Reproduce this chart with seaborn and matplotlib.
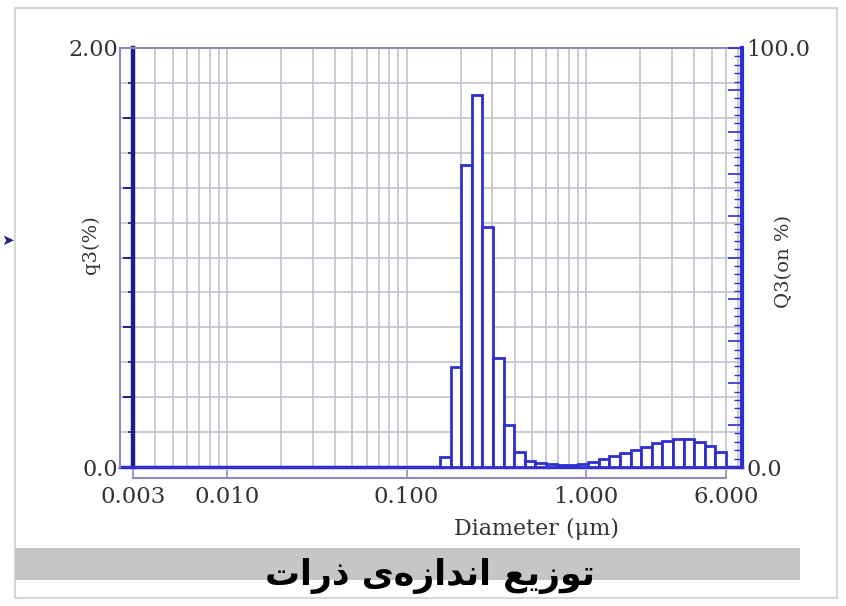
import numpy as np
import pandas as pd
import matplotlib
matplotlib.use("Agg")
import matplotlib.pyplot as plt
from matplotlib.patches import Rectangle
from matplotlib.ticker import (LogLocator, MultipleLocator, NullFormatter,
                               NullLocator, FuncFormatter)
import seaborn as sns

# bin edges of the size classes (um)
bin_edges = [0.154, 0.176, 0.202, 0.231, 0.264, 0.303, 0.347, 0.397, 0.455,
             0.521, 0.597, 0.684, 0.783, 0.897, 1.028, 1.177, 1.348, 1.544,
             1.769, 2.026, 2.321, 2.658, 3.045, 3.487, 3.994, 4.575, 5.241,
             6.000]
# q3 (%) per class
q3_values = [0.048, 0.477, 1.441, 1.776, 1.146, 0.520, 0.200, 0.072, 0.029,
             0.019, 0.014, 0.010, 0.010, 0.014, 0.024, 0.038, 0.052, 0.067,
             0.081, 0.095, 0.115, 0.124, 0.134, 0.134, 0.119, 0.100, 0.072]

x_ticks = [0.003, 0.01, 0.1, 1.0, 6.0]
x_ticklabels = ["0.003", "0.010", "0.100", "1.000", "6.000"]

title_fa = "توزیع اندازه\u200cی ذرات"

# matplotlib does no arabic shaping, so map letters to presentation forms
# (isolated, final, initial, medial); None -> letter never joins forward
forms = {
    "ت": ("\ufe95", "\ufe96", "\ufe97", "\ufe98"),
    "ع": ("\ufec9", "\ufeca", "\ufecb", "\ufecc"),
    "ن": ("\ufee5", "\ufee6", "\ufee7", "\ufee8"),
    "ه": ("\ufee9", "\ufeea", "\ufeeb", "\ufeec"),
    "\u06cc": ("\ufeef", "\ufef0", "\ufef3", "\ufef4"),
    "\u064a": ("\ufeef", "\ufef0", "\ufef3", "\ufef4"),
    "ا": ("\ufe8d", "\ufe8e", None, None),
    "د": ("\ufea9", "\ufeaa", None, None),
    "ذ": ("\ufeab", "\ufeac", None, None),
    "ر": ("\ufead", "\ufeae", None, None),
    "ز": ("\ufeaf", "\ufeb0", None, None),
    "و": ("\ufeed", "\ufeee", None, None),
}


def shape_fa(text):
    words = []
    for word in text.split(" "):
        out = []
        for part in word.split("\u200c"):
            for i, ch in enumerate(part):
                iso, fin, ini, med = forms[ch]
                prev_joins = i > 0 and forms[part[i - 1]][2] is not None
                next_joins = ini is not None and i < len(part) - 1
                if prev_joins and next_joins:
                    out.append(med)
                elif prev_joins:
                    out.append(fin)
                elif next_joins:
                    out.append(ini)
                else:
                    out.append(iso)
        words.append("".join(out)[::-1])
    return " ".join(words[::-1])


edges = np.array(bin_edges)
df = pd.DataFrame({"diameter": np.sqrt(edges[:-1] * edges[1:]), "q3": q3_values})
log_bins = [float(v) for v in np.log10(edges)]

sns.set_theme(style="white")
plt.rcParams["font.family"] = ["DejaVu Serif"]

navy = "#1e1e86"
blue = "#2f2fd0"
frame = "#8c8cb8"
text_col = "#333333"

fig = plt.figure(figsize=(8.46, 6.06), dpi=100)

# slide frame and caption band
fig.add_artist(Rectangle((15 / 846, 8 / 606), 822 / 846, 590 / 606,
                         transform=fig.transFigure, fill=False,
                         edgecolor="#d6d6d6", lw=1.5, zorder=0))
fig.add_artist(Rectangle((15 / 846, 26 / 606), 785 / 846, 32 / 606,
                         transform=fig.transFigure, color="#c6c6c6", lw=0, zorder=0))

ax = fig.add_axes([120 / 846, 139 / 606, 622 / 846, 419 / 606])
sns.histplot(data=df, x="diameter", weights="q3", bins=log_bins,
             log_scale=True, stat="count", fill=True, facecolor="white",
             edgecolor=blue, linewidth=2, ax=ax, zorder=3)

ax.set_xlim(0.00254, 7.37)
ax.set_ylim(0, 2)

# x grid on log decades
ax.xaxis.set_major_locator(LogLocator(base=10))
ax.xaxis.set_minor_locator(LogLocator(base=10, subs=range(2, 10)))
ax.xaxis.set_major_formatter(NullFormatter())
ax.xaxis.set_minor_formatter(NullFormatter())
ax.tick_params(axis="x", which="both", direction="out", length=4, width=1,
               color=blue, labelbottom=False)

ax.yaxis.set_major_locator(MultipleLocator(1 / 3))
ax.yaxis.set_minor_locator(MultipleLocator(1 / 6))
ax.yaxis.set_major_formatter(FuncFormatter(
    lambda v, p: "0.0" if abs(v) < 1e-9 else ("2.00" if abs(v - 2) < 1e-9 else "")))
ax.tick_params(axis="y", which="major", direction="out", length=7, width=1.4,
               color=navy, pad=4, labelsize=16, labelcolor=text_col)
ax.tick_params(axis="y", which="minor", direction="out", length=3.5, width=1.2,
               color=navy)

ax.grid(True, which="both", axis="both", color="#c2c2cc", lw=1.2)
ax.set_axisbelow(True)

ax.spines["left"].set_position(("data", 0.003))
ax.spines["left"].set_color(navy)
ax.spines["left"].set_linewidth(3.2)
ax.spines["bottom"].set_color(blue)
ax.spines["bottom"].set_linewidth(2.5)
ax.spines["top"].set_color(frame)
ax.spines["top"].set_linewidth(1.5)
ax.spines["right"].set_visible(False)

ax.set_ylabel("q3(%)", fontsize=14, color=text_col)
ax.yaxis.set_label_coords(-0.032, 0.53)
ax.set_xlabel("Diameter (\u03bcm)", fontsize=16, color=text_col)
ax.xaxis.set_label_coords(0.67, -0.122)

# bracket axis under the baseline carrying the labelled ticks
sec = ax.secondary_xaxis(-11 / 419)
sec.set_ticks(x_ticks, labels=x_ticklabels)
sec.xaxis.set_minor_locator(NullLocator())
sec.spines["bottom"].set_bounds(0.003, 6.0)
sec.spines["bottom"].set_color(frame)
sec.spines["bottom"].set_linewidth(1.5)
sec.tick_params(axis="x", direction="in", length=6, width=1.2, color=frame,
                pad=6, labelsize=16.5, labelcolor=text_col)

# cumulative axis on the right
ax2 = ax.twinx()
ax2.set_ylim(0, 100)
ax2.yaxis.set_major_locator(MultipleLocator(10))
ax2.yaxis.set_minor_locator(MultipleLocator(2))
ax2.yaxis.set_major_formatter(FuncFormatter(
    lambda v, p: "0.0" if abs(v) < 1e-9 else ("100.0" if abs(v - 100) < 1e-9 else "")))
ax2.tick_params(axis="y", which="major", direction="in", length=10, width=1.2,
                color=blue, pad=3, labelsize=16, labelcolor=text_col)
ax2.tick_params(axis="y", which="minor", direction="in", length=6, width=1,
                color=blue)
ax2.spines["right"].set_color(blue)
ax2.spines["right"].set_linewidth(3)
ax2.spines["left"].set_color(frame)
ax2.spines["left"].set_linewidth(1.5)
ax2.spines["top"].set_visible(False)
ax2.spines["bottom"].set_visible(False)
ax2.set_ylabel("Q3(on %)", fontsize=14, color=text_col)
ax2.yaxis.set_label_coords(1.053, 0.49)

fig.text(0.001, 1 - 240 / 606, "\u27a4", color=navy, fontsize=11,
         ha="left", va="center", family=["DejaVu Sans"])
fig.text(0.508, 0.05, shape_fa(title_fa), family=["DejaVu Sans"],
         weight="bold", fontsize=25, color="black", ha="center", va="center")

fig.savefig("out.png", dpi=100)
